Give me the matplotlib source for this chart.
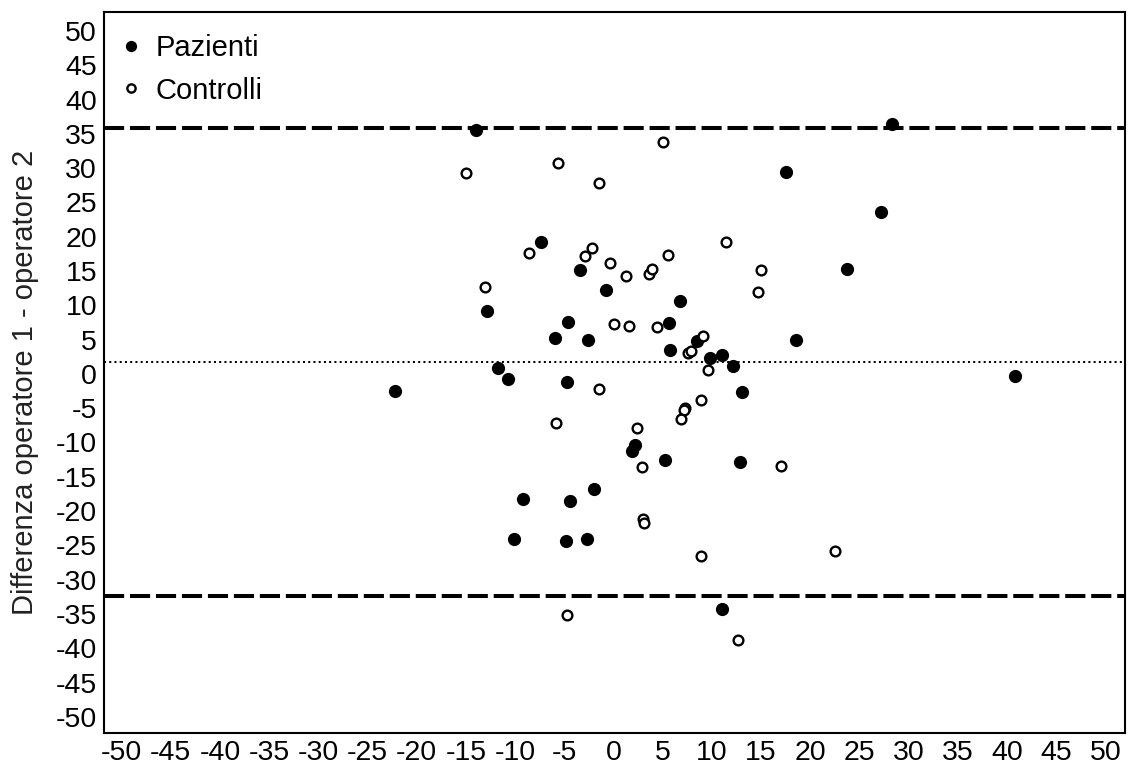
# Bland-Altman style plot: difference between operators, patients vs controls

import numpy as np
import matplotlib
matplotlib.use('Agg')
from matplotlib import pyplot as plt

# Pazienti (filled)
paz_x = [-14.0, 28.3, 17.5, 27.2, -7.4, 23.75, -3.4, -0.76, 6.8, -12.9,
         -4.6, 5.6, -5.95, -2.56, 18.6, 5.7, 8.5, 9.85, 11.0, -11.7,
         12.1, -10.7, -4.7, 40.8, -22.2, 13.1, 2.2, 1.85, 5.2, 12.9,
         -1.95, -9.2, -4.4, -10.1, -4.8, -2.7, 11.0]
paz_y = [35.5, 36.4, 29.5, 23.6, 19.2, 15.3, 15.1, 12.3, 10.6, 9.1,
         7.6, 7.4, 5.2, 5.0, 5.0, 3.5, 4.8, 2.3, 2.8, 0.9,
         1.1, -0.8, -1.2, -0.3, -2.5, -2.7, -10.3, -11.2, -12.5, -12.8,
         -16.8, -18.3, -18.5, -24.0, -24.4, -24.1, -34.3]

# Controlli (open)
con_x = [-15.0, -5.65, 5.0, -1.5, -8.6, -2.9, -2.2, -0.4, 5.5, 11.4,
         1.3, 3.6, 3.95, 15.0, 14.7, -13.1, 0.0, 1.55, 4.4, 9.1,
         7.55, 7.9, 9.65, -1.5, -5.85, 8.9, 7.3, 7.2, 6.9, 2.35,
         2.9, 17.0, 3.0, 3.1, 8.9, 22.5, -4.7, 12.7]
con_y = [29.3, 30.8, 33.8, 27.9, 17.6, 17.2, 18.4, 16.1, 17.4, 19.2,
         14.3, 14.6, 15.3, 15.1, 11.9, 12.7, 7.2, 7.0, 6.85, 5.5,
         3.0, 3.3, 0.6, -2.2, -7.1, -3.8, -4.9, -5.2, -6.6, -7.9,
         -13.6, -13.4, -21.1, -21.8, -26.6, -25.8, -35.2, -38.8]

mean_diff = 1.75
upper_loa = 35.85
lower_loa = -32.35

ticks = np.arange(-50, 55, 5)

plt.rcParams['font.family'] = ['Liberation Sans', 'DejaVu Sans']
plt.rcParams['axes.unicode_minus'] = False

fig = plt.figure(figsize=(11.29, 7.65), dpi=100)
ax = fig.add_axes([0.0921, 0.0414, 0.9044, 0.9433])

ax.axhline(upper_loa, color='black', lw=2.9, dashes=(5, 1.45))
ax.axhline(lower_loa, color='black', lw=2.9, dashes=(5, 1.45))
ax.axhline(mean_diff, color='black', lw=1.45, dashes=(1, 1.6))

ax.plot(paz_x, paz_y, 'o', ms=9.5, mfc='black', mec='black', mew=0,
        label='Pazienti', zorder=3)
ax.plot(con_x, con_y, 'o', ms=7, mfc='white', mec='black', mew=1.7,
        label='Controlli', zorder=3)

ax.set_xlim(-51.8, 52.0)
ax.set_ylim(-52.4, 52.8)
ax.set_xticks(ticks)
ax.set_yticks(ticks)
ax.tick_params(length=0, labelsize=20.5, pad=5)
for s in ax.spines.values():
    s.set_linewidth(1.5)

ax.set_ylabel('Differenza operatore 1 - operatore 2', fontsize=21, color='#222222')
ax.yaxis.set_label_coords(-0.064, 0.487)

ax.legend(loc='upper left', bbox_to_anchor=(0.0118, 0.969), frameon=False,
          fontsize=21, borderpad=0, borderaxespad=0, handlelength=1.0,
          handletextpad=0.35, labelspacing=0.5, markerscale=0.85, numpoints=1)

plt.savefig('out.png', dpi=100)
